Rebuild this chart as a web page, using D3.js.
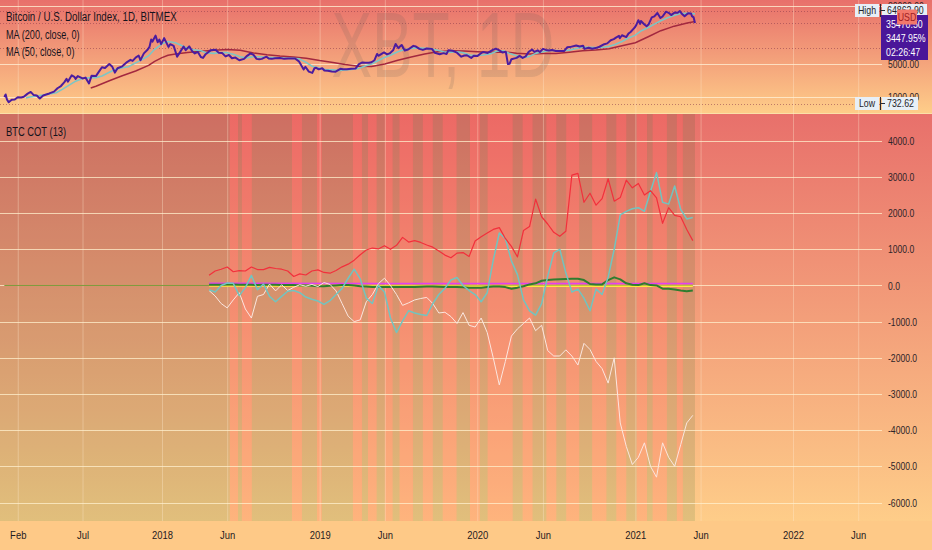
<!DOCTYPE html>
<html>
<head>
<meta charset="utf-8">
<script src="https://cdnjs.cloudflare.com/ajax/libs/d3/7.8.5/d3.min.js"></script>
<style>
  body { margin: 0; background: #fdc986; }
  svg { display: block; font-family: "Liberation Sans", Arial, sans-serif; }
</style>
</head>
<body>
<div id="chart"></div>
<script>
// ---------------------------------------------------------------------------
// data

// BTC daily close (log scale pane), [date, price]
var priceData = [
  ["2017-01-01",1000],["2017-01-04",1130],["2017-01-07",890],["2017-01-11",780],["2017-01-18",880],["2017-01-25",890],
  ["2017-02-01",990],["2017-02-09",980],["2017-02-15",1010],["2017-02-24",1180],["2017-03-03",1280],["2017-03-10",1100],
  ["2017-03-17",1080],["2017-03-24",930],["2017-04-01",1080],["2017-04-15",1190],["2017-04-26",1300],["2017-05-04",1530],
  ["2017-05-12",1700],["2017-05-20",2050],["2017-05-25",2400],["2017-05-28",2100],["2017-06-06",2850],["2017-06-12",2650],
  ["2017-06-15",2400],["2017-06-20",2750],["2017-07-01",2450],["2017-07-08",2550],["2017-07-16",1930],["2017-07-22",2800],
  ["2017-08-01",2750],["2017-08-08",3400],["2017-08-15",4200],["2017-08-22",4050],["2017-09-01",4900],["2017-09-08",4300],
  ["2017-09-14",3250],["2017-09-20",4000],["2017-10-01",4400],["2017-10-12",5400],["2017-10-20",6000],["2017-10-25",5700],
  ["2017-11-01",6700],["2017-11-08",7400],["2017-11-12",5900],["2017-11-20",8200],["2017-11-29",9900],["2017-12-03",11200],
  ["2017-12-07",16000],["2017-12-10",14500],["2017-12-17",19300],["2017-12-22",14000],["2017-12-26",16000],["2017-12-30",12800],
  ["2018-01-06",17100],["2018-01-10",14500],["2018-01-16",11200],["2018-01-20",12800],["2018-01-28",11800],["2018-02-05",7000],
  ["2018-02-10",8200],["2018-02-20",11400],["2018-02-25",9600],["2018-03-05",11500],["2018-03-12",9100],["2018-03-18",8200],
  ["2018-03-25",8800],["2018-04-01",6900],["2018-04-06",6600],["2018-04-12",7900],["2018-04-24",9600],["2018-05-05",9800],
  ["2018-05-12",8500],["2018-05-20",8400],["2018-05-28",7100],["2018-06-05",7600],["2018-06-12",6500],["2018-06-20",6700],
  ["2018-06-29",5900],["2018-07-10",6300],["2018-07-17",7300],["2018-07-25",8200],["2018-08-01",7600],["2018-08-08",6300],
  ["2018-08-14",6200],["2018-08-20",6300],["2018-08-31",7000],["2018-09-05",6400],["2018-09-12",6300],["2018-09-20",6500],
  ["2018-10-01",6600],["2018-10-11",6300],["2018-10-20",6400],["2018-11-05",6400],["2018-11-14",5600],["2018-11-20",4500],
  ["2018-11-25",3800],["2018-11-29",4300],["2018-12-07",3400],["2018-12-15",3200],["2018-12-20",4000],["2018-12-24",4100],
  ["2018-12-30",3800],["2019-01-07",4000],["2019-01-12",3600],["2019-01-20",3550],["2019-01-29",3420],["2019-02-07",3400],
  ["2019-02-18",3900],["2019-02-24",3800],["2019-03-05",3800],["2019-03-15",3900],["2019-03-25",3950],["2019-04-02",4900],
  ["2019-04-10",5300],["2019-04-17",5200],["2019-04-25",5200],["2019-05-01",5350],["2019-05-08",5900],["2019-05-14",8000],
  ["2019-05-17",7300],["2019-05-30",8600],["2019-06-06",7800],["2019-06-12",8200],["2019-06-20",9500],["2019-06-26",12900],
  ["2019-07-02",10600],["2019-07-10",12300],["2019-07-17",9400],["2019-07-25",9900],["2019-08-06",11800],["2019-08-12",11400],
  ["2019-08-20",10200],["2019-08-28",9700],["2019-09-06",10400],["2019-09-18",10200],["2019-09-25",8400],["2019-10-06",7900],
  ["2019-10-15",8300],["2019-10-22",8000],["2019-10-26",9500],["2019-11-05",9300],["2019-11-15",8500],["2019-11-25",7000],
  ["2019-12-02",7400],["2019-12-08",7500],["2019-12-18",6600],["2019-12-24",7300],["2020-01-01",7200],["2020-01-08",8100],
  ["2020-01-15",8800],["2020-01-25",8400],["2020-02-05",9600],["2020-02-13",10300],["2020-02-20",9600],["2020-02-28",8600],
  ["2020-03-07",8900],["2020-03-12",4900],["2020-03-16",5000],["2020-03-20",6200],["2020-04-01",6600],["2020-04-08",7300],
  ["2020-04-15",6600],["2020-04-22",7100],["2020-04-29",8800],["2020-05-07",9900],["2020-05-12",8800],["2020-05-20",9500],
  ["2020-05-25",8800],["2020-06-01",10200],["2020-06-08",9700],["2020-06-15",9400],["2020-06-22",9700],["2020-07-01",9200],
  ["2020-07-10",9250],["2020-07-20",9200],["2020-07-27",11000],["2020-08-02",11100],["2020-08-17",12000],["2020-08-25",11400],
  ["2020-09-02",11900],["2020-09-05",10200],["2020-09-15",10800],["2020-09-23",10300],["2020-10-01",10600],["2020-10-10",11300],
  ["2020-10-21",12800],["2020-10-28",13300],["2020-11-05",15500],["2020-11-12",16300],["2020-11-18",17800],["2020-11-24",19100],
  ["2020-11-26",17000],["2020-12-01",19700],["2020-12-11",18000],["2020-12-16",21300],["2020-12-21",23000],["2020-12-27",26500],
  ["2020-12-31",29000],["2021-01-03",32000],["2021-01-08",40600],["2021-01-12",34000],["2021-01-14",39000],["2021-01-22",33000],
  ["2021-01-27",30400],["2021-02-01",33500],["2021-02-08",46500],["2021-02-14",48800],["2021-02-21",57500],["2021-02-28",45200],
  ["2021-03-05",48500],["2021-03-13",61200],["2021-03-19",58000],["2021-03-25",52000],["2021-04-02",59000],["2021-04-09",58000],
  ["2021-04-14",63500],["2021-04-18",56000],["2021-04-25",49000],["2021-05-03",57000],["2021-05-10",56000],["2021-05-12",49500],
  ["2021-05-16",46500],["2021-05-19",35470.5]
];

// MA (50, close)
var ma50Data = [
  ["2017-02-20",960],["2017-03-01",1000],["2017-04-01",1100],["2017-05-01",1230],["2017-05-15",1450],["2017-06-01",1800],
  ["2017-06-15",2150],["2017-07-01",2450],["2017-07-20",2550],["2017-08-01",2550],["2017-08-15",2750],["2017-09-01",3300],
  ["2017-09-15",3800],["2017-10-01",4100],["2017-10-15",4300],["2017-11-01",5200],["2017-11-15",6000],["2017-12-01",7300],
  ["2017-12-15",10000],["2018-01-01",13000],["2018-01-15",14500],["2018-02-01",13700],["2018-02-15",12000],["2018-03-01",10500],
  ["2018-03-15",9800],["2018-04-01",9300],["2018-04-15",8400],["2018-05-01",8200],["2018-05-15",8500],["2018-06-01",8500],
  ["2018-06-15",7900],["2018-07-01",7000],["2018-07-15",6600],["2018-08-01",7000],["2018-08-15",7000],["2018-09-01",6800],
  ["2018-09-15",6700],["2018-10-01",6600],["2018-10-15",6500],["2018-11-01",6450],["2018-11-15",6300],["2018-12-01",5300],
  ["2018-12-15",4400],["2019-01-01",4000],["2019-01-15",3750],["2019-02-01",3700],["2019-02-15",3600],["2019-03-01",3700],
  ["2019-03-15",3800],["2019-04-01",3950],["2019-04-15",4400],["2019-05-01",4900],["2019-05-15",5700],["2019-06-01",6800],
  ["2019-06-15",7600],["2019-07-01",8900],["2019-07-15",9800],["2019-08-01",10400],["2019-08-15",10700],["2019-09-01",10500],
  ["2019-09-15",10300],["2019-10-01",9500],["2019-10-15",8900],["2019-11-01",8700],["2019-11-15",8900],["2019-12-01",8400],
  ["2019-12-15",7600],["2020-01-01",7400],["2020-01-15",7600],["2020-02-01",8100],["2020-02-15",9100],["2020-03-01",9300],
  ["2020-03-15",8300],["2020-04-01",7300],["2020-04-15",6700],["2020-05-01",7100],["2020-05-15",8200],["2020-06-01",8900],
  ["2020-06-15",9400],["2020-07-01",9400],["2020-07-15",9300],["2020-08-01",9600],["2020-08-15",10300],["2020-09-01",11100],
  ["2020-09-15",11000],["2020-10-01",10900],["2020-10-15",10900],["2020-11-01",11500],["2020-11-15",12600],["2020-12-01",14600],
  ["2020-12-15",17000],["2021-01-01",19800],["2021-01-15",24500],["2021-02-01",29000],["2021-02-15",34000],["2021-03-01",39500],
  ["2021-03-15",45000],["2021-04-01",51000],["2021-04-15",56000],["2021-05-01",57000],["2021-05-19",55000]
];

// MA (200, close)
var ma200Data = [
  ["2017-07-20",1550],["2017-08-01",1680],["2017-09-01",2200],["2017-10-01",2800],["2017-11-01",3500],["2017-12-01",4600],
  ["2017-12-15",5600],["2018-01-01",6700],["2018-01-15",7500],["2018-02-01",8000],["2018-03-01",8600],["2018-04-01",9100],
  ["2018-05-01",9500],["2018-06-01",9900],["2018-07-01",9500],["2018-08-01",8400],["2018-09-01",7700],["2018-10-01",7200],
  ["2018-11-01",6900],["2018-12-01",6500],["2019-01-01",5800],["2019-02-01",5300],["2019-03-01",4800],["2019-04-01",4400],
  ["2019-05-01",4350],["2019-06-01",4900],["2019-07-01",5900],["2019-08-01",6900],["2019-09-01",8000],["2019-10-01",8900],
  ["2019-11-01",9300],["2019-12-01",9200],["2020-01-01",8900],["2020-02-01",8700],["2020-03-01",8800],["2020-04-01",8300],
  ["2020-05-01",8000],["2020-06-01",8200],["2020-07-01",8150],["2020-08-01",8700],["2020-09-01",9300],["2020-10-01",9700],
  ["2020-11-01",10300],["2020-12-01",11800],["2021-01-01",13700],["2021-02-01",18500],["2021-03-01",24500],["2021-04-01",30500],
  ["2021-05-01",35500],["2021-05-19",38000]
];

// horizontal price lines in the top pane (high, last, level, low)
var topDotted = [64862.9, 35470.5, 10800, 732.62];
var topGrid = [80000, 5000, 1000];

// BTC COT (13): one value every two weeks from cotStart
var cotStart = "2018-04-20";
var cotStepDays = 14;
var cotRed = [280,400,450,510,380,410,400,510,440,440, 500,470,450,400,250,320,290,400,430,360,
  340,415,515,590,700,850,980,1035,1010,1100, 1000,1110,1330,1200,1240,1190,1120,1060,950,840,
  765,895,910,800,1230,1350,1450,1550,1600,1300, 1080,790,1520,1630,2390,1900,1700,1470,1360,1500,
  3050,3100,2300,2550,2220,2400,2950,2330,2430,2910, 2700,2820,2500,2620,2420,1720,2150,1940,1900,1550,
  1240];
var cotTeal = [-120,-180,0,70,60,-280,-60,280,-120,40, -300,-450,-300,-160,-140,-200,-320,-380,-430,-520,
  -420,-250,-80,200,450,180,-350,-500,0,-180, -900,-1300,-980,-700,-760,-800,-830,-500,-250,-80,
  150,220,0,-140,-250,-450,-200,700,1450,1300, 680,300,-400,-700,-820,-500,250,900,1000,350,
  -180,-100,-350,-700,-100,-250,230,1000,1950,2050, 2120,2150,2050,2600,3120,2300,2250,2750,2100,1840,
  1880];
var cotWhite = [-140,-290,-500,-620,-400,-200,-650,-900,-300,-250, 40,-150,20,-140,-50,20,-20,30,-30,80,
  30,-150,-500,-850,-1000,-950,-450,-250,50,200, 0,-250,-550,-480,-400,-360,-330,-500,-760,-740,
  -860,-1050,-750,-1100,-1150,-900,-1300,-2000,-2750,-2100, -1400,-1200,-1050,-900,-1250,-1100,-1800,-1950,-1950,-1780,
  -1950,-2200,-1600,-1770,-2100,-2300,-2700,-2000,-3800,-4450, -4950,-4750,-4350,-5000,-5300,-4350,-4750,-5000,-4400,-3800,
  -3590];
var cotGreen = [20,20,20,25,25,20,20,20,15,20, 20,20,15,10,10,0,0,-10,-20,-20,
  -10,0,10,10,0,-20,-30,-40,-40,-40, -40,-40,-40,-40,-40,-35,-30,-30,-35,-40,
  -40,-40,-50,-60,-65,-60,-45,-30,-30,-45, -90,-60,-20,30,60,130,150,165,175,180,
  185,185,150,40,30,30,150,225,170,60, 20,10,60,10,0,-90,-90,-110,-140,-160,
  -140];
var cotMagenta = [["2018-04-20",60],["2019-06-01",55],["2020-06-01",55],["2021-05-14",55]];
var cotYellow = [["2018-04-20",-15],["2019-06-01",-15],["2020-06-01",-20],["2021-05-14",-20]];
var zeroLine = [["2017-01-01",0],["2021-05-14",0]];

// background colour bands: start date and state (g / r), last band ends at bandEnd
var bands = [
  ["2016-12-01","g"],["2018-06-07","r"],["2018-06-26","g"],["2018-07-05","r"],["2018-07-28","g"],
  ["2018-10-29","r"],["2018-11-21","g"],["2018-12-26","r"],["2019-01-06","g"],["2019-03-19","r"],
  ["2019-04-09","g"],["2019-04-23","r"],["2019-05-13","g"],["2019-06-01","r"],["2019-06-19","g"],
  ["2019-07-05","r"],["2019-08-05","g"],["2019-08-28","r"],["2019-09-20","g"],["2019-10-13","r"],
  ["2019-11-14","g"],["2019-12-15","r"],["2020-01-07","g"],["2020-01-25","r"],["2020-03-23","g"],
  ["2020-04-15","r"],["2020-05-08","g"],["2020-06-09","r"],["2020-07-02","g"],["2020-07-25","r"],
  ["2020-08-24","g"],["2020-09-23","r"],["2020-10-26","g"],["2020-11-18","r"],["2020-12-11","g"],
  ["2021-01-04","r"],["2021-01-28","g"],["2021-02-10","r"],["2021-03-15","g"],["2021-04-07","r"],
  ["2021-04-21","g"]
];
var bandEnd = "2021-05-19";

// axis ticks
var timeTicks = ["2017-02-01","2017-07-01","2018-01-01","2018-06-01","2019-01-01","2019-06-01",
  "2020-01-01","2020-06-01","2021-01-01","2021-06-01","2022-01-01","2022-06-01"];
var timeLabels = ["Feb","Jul","2018","Jun","2019","Jun","2020","Jun","2021","Jun","2022","Jun"];
var cotTicks = [4000,3000,2000,1000,0,-1000,-2000,-3000,-4000,-5000,-6000];

// ---------------------------------------------------------------------------

var svgWidth = 932, svgHeight = 550;
var plotW = 882;
var topPane = {y0: 0, y1: 113};
var botPane = {y0: 114, y1: 521};

var parse = d3.utcParse("%Y-%m-%d");

var svg = d3.select("#chart").append("svg")
    .attr("width", svgWidth)
    .attr("height", svgHeight);

var defs = svg.append("defs");

function paneGradient(id, y0, y1) {
    var g = defs.append("linearGradient")
        .attr("id", id)
        .attr("gradientUnits", "userSpaceOnUse")
        .attr("x1", 0).attr("x2", 0)
        .attr("y1", y0).attr("y2", y1);
    g.append("stop").attr("offset", 0).attr("stop-color", "#e8706b");
    g.append("stop").attr("offset", 1).attr("stop-color", "#fecd89");
}
paneGradient("gTop", topPane.y0, topPane.y1);
paneGradient("gBot", botPane.y0, botPane.y1);

defs.append("clipPath").attr("id", "clipTop").append("rect")
    .attr("x", 0).attr("y", topPane.y0).attr("width", plotW).attr("height", topPane.y1 - topPane.y0);
defs.append("clipPath").attr("id", "clipBot").append("rect")
    .attr("x", 0).attr("y", botPane.y0).attr("width", plotW).attr("height", botPane.y1 - botPane.y0);

// scales
var xScale = d3.scaleUtc()
    .domain([parse("2018-01-01"), parse("2022-01-01")])
    .range([162, 793]);
var yTop = d3.scaleLog()
    .domain([732.62, 64862.9])
    .range([103.5, 10.5]);
var yBot = d3.scaleLinear()
    .domain([-6000, 4000])
    .range([502.5, 140.8]);

// backgrounds
svg.append("rect").attr("x", 0).attr("y", 0).attr("width", svgWidth).attr("height", svgHeight)
    .attr("fill", "#fec987");
svg.append("rect").attr("x", 0).attr("y", topPane.y0).attr("width", svgWidth)
    .attr("height", topPane.y1 - topPane.y0).attr("fill", "url(#gTop)");
svg.append("rect").attr("x", 0).attr("y", botPane.y0).attr("width", svgWidth)
    .attr("height", botPane.y1 - botPane.y0).attr("fill", "url(#gBot)");
svg.append("line").attr("x1", 0).attr("x2", svgWidth)
    .attr("y1", topPane.y1 + 0.5).attr("y2", topPane.y1 + 0.5)
    .attr("stroke", "#fbe0a8").attr("stroke-width", 1);

// bottom pane colour bands
var bandG = svg.append("g").attr("clip-path", "url(#clipBot)");
bandG.selectAll("rect").data(bands).enter().append("rect")
    .attr("x", d => xScale(parse(d[0])))
    .attr("width", (d, i) => {
        var end = i < bands.length - 1 ? bands[i + 1][0] : bandEnd;
        return xScale(parse(end)) - xScale(parse(d[0]));
    })
    .attr("y", botPane.y0)
    .attr("height", botPane.y1 - botPane.y0)
    .attr("fill", d => d[1] == "g" ? "rgba(30,100,40,0.13)" : "rgba(255,82,82,0.2)");

// vertical grid
var tickDates = timeTicks.map(parse);
svg.append("g").selectAll("line").data(tickDates).enter().append("line")
    .attr("x1", d => xScale(d) + 0.5).attr("x2", d => xScale(d) + 0.5)
    .attr("y1", 0).attr("y2", botPane.y1)
    .attr("stroke", "rgba(255,236,210,0.35)").attr("stroke-width", 1);

// horizontal grid, top pane
var topG = svg.append("g").attr("clip-path", "url(#clipTop)");
topG.selectAll("line.grid").data(topGrid).enter().append("line")
    .attr("class", "grid")
    .attr("x1", 0).attr("x2", plotW)
    .attr("y1", d => Math.round(yTop(d)) + 0.5).attr("y2", d => Math.round(yTop(d)) + 0.5)
    .attr("stroke", "rgba(255,238,210,0.8)").attr("stroke-width", 1);
topG.selectAll("line.dot").data(topDotted).enter().append("line")
    .attr("class", "dot")
    .attr("x1", 0).attr("x2", plotW)
    .attr("y1", d => Math.round(yTop(d)) + 0.5).attr("y2", d => Math.round(yTop(d)) + 0.5)
    .attr("stroke", "#8c3c4c").attr("stroke-opacity", 0.55)
    .attr("stroke-dasharray", "1,2").attr("stroke-width", 1);

// watermark
topG.append("text")
    .attr("x", 443).attr("y", 77)
    .attr("text-anchor", "middle")
    .attr("font-size", 92)
    .attr("fill", "#5a5a5a").attr("fill-opacity", 0.15)
    .attr("textLength", 223).attr("lengthAdjust", "spacingAndGlyphs")
    .text("XBT, 1D");

// horizontal grid, bottom pane
var botG = svg.append("g").attr("clip-path", "url(#clipBot)");
botG.selectAll("line.grid").data(cotTicks).enter().append("line")
    .attr("x1", 0).attr("x2", plotW)
    .attr("y1", d => Math.round(yBot(d)) + 0.5).attr("y2", d => Math.round(yBot(d)) + 0.5)
    .attr("stroke", "rgba(255,240,205,0.75)").attr("stroke-width", 1);

// price lines
function pairLine(y) {
    return d3.line().x(d => xScale(parse(d[0]))).y(d => y(d[1]));
}
function drawPairs(g, data, y, color, width) {
    g.append("path").datum(data)
        .attr("fill", "none")
        .attr("stroke", color)
        .attr("stroke-width", width)
        .attr("stroke-linejoin", "round")
        .attr("d", pairLine(y));
}
drawPairs(topG, ma200Data, yTop, "#a3283f", 1.5);
drawPairs(topG, ma50Data, yTop, "#7cc6c6", 1.6);
drawPairs(topG, priceData, yTop, "#4b1c9f", 2);

// COT lines
var cotDates = cotRed.map((v, i) => d3.utcDay.offset(parse(cotStart), i * cotStepDays));
function drawCot(values, color, width) {
    var line = d3.line()
        .x((d, i) => xScale(cotDates[i]))
        .y(d => yBot(d));
    botG.append("path").datum(values)
        .attr("fill", "none")
        .attr("stroke", color)
        .attr("stroke-width", width)
        .attr("stroke-linejoin", "round")
        .attr("d", line);
}
drawPairs(botG, zeroLine, yBot, "#7d9a3c", 1);
drawPairs(botG, cotYellow, yBot, "#ffe93b", 1.5);
drawPairs(botG, cotMagenta, yBot, "#e041f0", 1.5);
drawCot(cotGreen, "#2f7d2f", 2);
drawCot(cotWhite, "#fbe6df", 1);
drawCot(cotTeal, "#72c4bf", 1.5);
drawCot(cotRed, "#f2303c", 1.2);

// ---------------------------------------------------------------------------
// axes and labels

function squeeze(sel, k) {
    sel.each(function () {
        var len = this.getComputedTextLength();
        d3.select(this).attr("textLength", len * k).attr("lengthAdjust", "spacingAndGlyphs");
    });
}

var timeAxis = d3.axisBottom(xScale)
    .tickValues(tickDates)
    .tickFormat((d, i) => timeLabels[i])
    .tickSize(0)
    .tickPadding(10);
var tg = svg.append("g")
    .attr("transform", `translate(0, ${botPane.y1})`)
    .call(timeAxis);
tg.select(".domain").remove();
tg.selectAll("text")
    .attr("font-size", 11.5)
    .attr("font-family", "Liberation Sans, Arial, sans-serif")
    .attr("fill", "#1e1a22")
    .call(squeeze, 0.82);

var botAxis = d3.axisRight(yBot)
    .tickValues(cotTicks)
    .tickFormat(d => d.toFixed(1))
    .tickSize(0)
    .tickPadding(6);
var ba = svg.append("g")
    .attr("transform", `translate(${plotW}, 0)`)
    .call(botAxis);
ba.select(".domain").remove();
ba.selectAll("text")
    .attr("font-size", 11)
    .attr("font-family", "Liberation Sans, Arial, sans-serif")
    .attr("fill", "#2e2428")
    .call(squeeze, 0.78);

var topAxis = d3.axisRight(yTop)
    .tickValues(topGrid)
    .tickFormat(d => d.toFixed(2))
    .tickSize(0)
    .tickPadding(6);
var ta = svg.append("g")
    .attr("transform", `translate(${plotW}, 0)`)
    .call(topAxis);
ta.select(".domain").remove();
ta.selectAll("text")
    .attr("font-size", 11)
    .attr("font-family", "Liberation Sans, Arial, sans-serif")
    .attr("fill", "#2e2428")
    .call(squeeze, 0.78);

// high / low tags
function priceTag(label, value, valueW) {
    var yc = yTop(value);
    var g = svg.append("g");
    var y0 = Math.max(0, yc - 6.5);
    g.append("rect").attr("x", 855).attr("y", y0).attr("width", 24).attr("height", 13)
        .attr("fill", "#e7eff7");
    g.append("text").attr("x", 867).attr("y", y0 + 10).attr("text-anchor", "middle")
        .attr("font-size", 11).attr("fill", "#1e1e28").text(label).call(squeeze, 0.8);
    g.append("rect").attr("x", 882).attr("y", y0).attr("width", valueW).attr("height", 13)
        .attr("fill", "#e7eff7");
    g.append("path")
        .attr("d", `M880.5,${y0}V${y0 + 13}M880.5,${y0 + 6.5}H885`)
        .attr("stroke", "#2a2a34").attr("stroke-width", 1);
    g.append("text").attr("x", 887).attr("y", y0 + 10)
        .attr("font-size", 11).attr("fill", "#1e1e28").text(d3.format(".2f")(value)).call(squeeze, 0.8);
}
priceTag("High", 64862.9, 45);
priceTag("Low", 732.62, 36);

// last price label
var lastPrice = priceData[priceData.length - 1][1];
var pl = svg.append("g");
pl.append("rect").attr("x", 881).attr("y", 15).attr("width", 47).attr("height", 45)
    .attr("fill", "#4a1699");
pl.selectAll("text").data([d3.format(".2f")(lastPrice), "3447.95%", "02:26:47"]).enter().append("text")
    .attr("x", 886).attr("y", (d, i) => 28 + i * 14)
    .attr("font-size", 11).attr("fill", "#ffffff")
    .text(d => d)
    .call(squeeze, 0.8);
pl.append("rect").attr("x", 897).attr("y", 9.5).attr("width", 20).attr("height", 15).attr("rx", 1)
    .attr("fill", "#f2786b");
pl.append("text").attr("x", 907).attr("y", 21).attr("text-anchor", "middle")
    .attr("font-size", 11).attr("fill", "#a01c22").text("USD").call(squeeze, 0.8);

// legends
var legend = svg.append("g").attr("fill", "#15131c");
legend.append("text").attr("x", 6).attr("y", 21).attr("font-size", 12.5)
    .text("Bitcoin / U.S. Dollar Index, 1D, BITMEX").call(squeeze, 0.78);
legend.append("text").attr("x", 6).attr("y", 39).attr("font-size", 12)
    .text("MA (200, close, 0)").call(squeeze, 0.76);
legend.append("text").attr("x", 6).attr("y", 56).attr("font-size", 12)
    .text("MA (50, close, 0)").call(squeeze, 0.76);
legend.append("text").attr("x", 6).attr("y", 136).attr("font-size", 12)
    .text("BTC COT (13)").call(squeeze, 0.78);
</script>
</body>
</html>
